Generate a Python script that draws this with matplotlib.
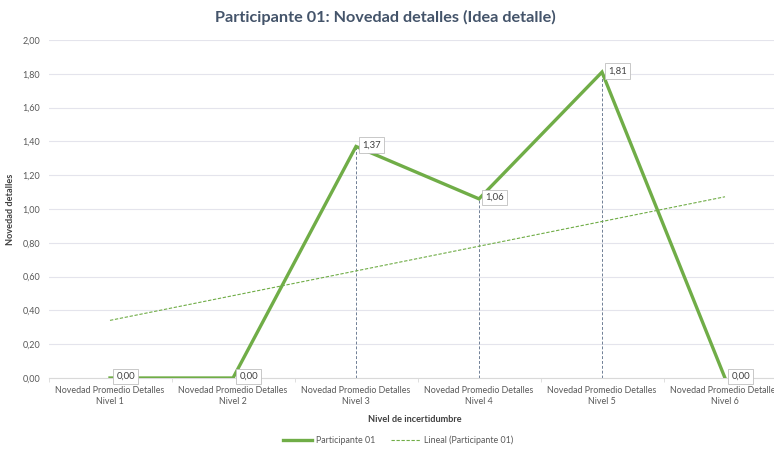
import numpy as np
import matplotlib.pyplot as plt
from matplotlib.ticker import FuncFormatter

# datos
categorias = ["Novedad Promedio Detalles\nNivel 1", "Novedad Promedio Detalles\nNivel 2",
              "Novedad Promedio Detalles\nNivel 3", "Novedad Promedio Detalles\nNivel 4",
              "Novedad Promedio Detalles\nNivel 5", "Novedad Promedio Detalles\nNivel 6"]
valores = [0.00, 0.00, 1.37, 1.06, 1.81, 0.00]
serie = "Participante 01"
titulo = "Participante 01: Novedad detalles (Idea detalle)"

plt.rcParams['font.family'] = ['Lato', 'DejaVu Sans']

verde = '#70AD47'
gris_texto = '#595959'
gris_linea = '#D9D9D9'

fig = plt.figure(figsize=(7.74, 4.51), dpi=100, facecolor='white')
ax = fig.add_axes([48.5 / 774, 73 / 451, 738 / 774, 338 / 451])

x = np.arange(1, len(valores) + 1)
y = np.array(valores)

# lineas de caida
ax.vlines(x, 0, y, colors='#6F7F95', linestyles=(0, (3, 2)), linewidth=0.7, zorder=2)

ax.plot(x, y, color=verde, linewidth=2.4, label=serie, zorder=3, solid_joinstyle='miter')

# tendencia lineal
m, b = np.polyfit(x, y, 1)
ax.plot(x, m * x + b, color=verde, linewidth=0.8, linestyle=(0, (3, 1.5)),
        label=f"Lineal ({serie})", zorder=2)

for xi, yi in zip(x, y):
    ax.annotate(f"{yi:.2f}".replace('.', ','), (xi, yi), xytext=(4.5, 1),
                textcoords='offset points', ha='left', va='center', fontsize=6.8,
                color='#404040', zorder=5,
                bbox=dict(boxstyle='square,pad=0.35', fc='white', ec='#BFBFBF', lw=0.6))

ax.set_xlim(0.5, 6.5)
ax.set_ylim(0, 2.0)
ax.set_yticks(np.arange(0, 2.01, 0.2))
ax.yaxis.set_major_formatter(FuncFormatter(lambda v, p: f"{v:.2f}".replace('.', ',')))
ax.set_xticks(x)
ax.set_xticklabels(categorias, fontsize=6.4, color=gris_texto, linespacing=1.25)
ax.set_xticks(np.arange(0.5, 7, 1), minor=True)
ax.tick_params(axis='x', which='major', length=0, pad=6)
ax.tick_params(axis='x', which='minor', length=3, color=gris_linea)
ax.tick_params(axis='y', length=0, labelsize=6.5, labelcolor=gris_texto, pad=6)

ax.grid(axis='y', color='#E4E4EC', linewidth=0.8)
ax.set_axisbelow(True)
for s in ['top', 'right', 'left']:
    ax.spines[s].set_visible(False)
ax.spines['bottom'].set_color(gris_linea)

ax.set_xlabel("Nivel de incertidumbre", fontsize=6.6, fontweight='bold', color='#404040')
ax.xaxis.set_label_coords((415 - 48.5) / 738, -(415 - 378) / 338)
ax.set_ylabel("Novedad detalles", fontsize=6.6, fontweight='bold', color='#404040')
ax.yaxis.set_label_coords(-(48.5 - 15) / 738, 0.5)

fig.text(385 / 774, 1 - 17 / 451, titulo, ha='center', va='center', fontsize=11.7,
         fontweight='bold', color='#44546A')

fig.legend(loc='center', bbox_to_anchor=(398 / 774, 1 - 440 / 451), ncol=2, frameon=False,
           fontsize=6.4, labelcolor=gris_texto, handlelength=3.3, handletextpad=0.4,
           columnspacing=1.8)

fig.savefig("out.png", dpi=100, facecolor='white')
